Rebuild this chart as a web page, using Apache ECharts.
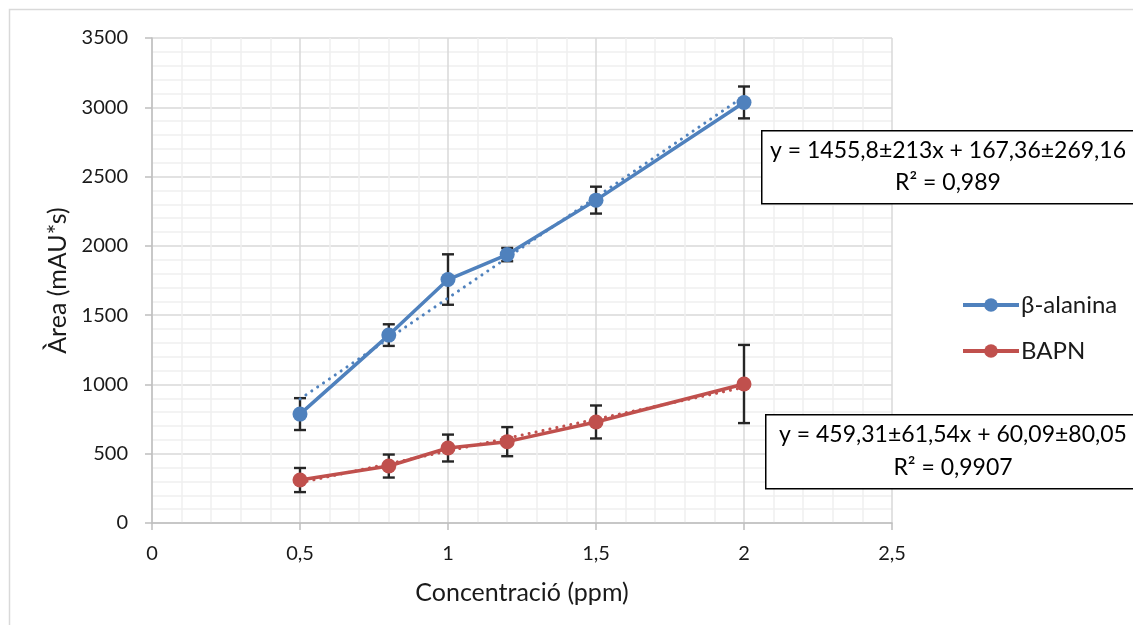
<!DOCTYPE html>
<html>
<head>
<meta charset="utf-8">
<script src="https://cdn.jsdelivr.net/npm/echarts@6/dist/echarts.min.js"></script>
<style>
  html, body { margin: 0; padding: 0; background: #fff; }
  #chart { width: 1133px; height: 625px; }
</style>
</head>
<body>
<div id="chart"></div>
<script>
// concentrations (ppm)
const concentrations = [0.5, 0.8, 1, 1.2, 1.5, 2];

// β-alanina: mean area and error
const alaninaArea = [786, 1356, 1757, 1937, 2330, 3035];
const alaninaErr = [115, 78, 182, 48, 97, 115];

// BAPN: mean area and error
const bapnArea = [310, 411, 541, 587, 729, 1003];
const bapnErr = [87, 83, 97, 105, 119, 282];

// dotted linear trendlines, end points
const alaninaTrend = [[0.5, 895], [2, 3079]];
const bapnTrend = [[0.5, 290], [2, 979]];

const xTicks = [0, 0.5, 1, 1.5, 2, 2.5];
const yTicks = [0, 500, 1000, 1500, 2000, 2500, 3000, 3500];

const eqAlanina = ['y = 1455,8±213x + 167,36±269,16', 'R² = 0,989'];
const eqBapn = ['y = 459,31±61,54x + 60,09±80,05', 'R² = 0,9907'];

const BLUE = '#4f81bd';
const RED = '#c0504d';
const FONT = 'Lato';
const TXT = '#1a1a1a';

const pairs = (xs, ys) => xs.map((x, i) => [x, ys[i]]);
const errRows = (xs, ys, es) => xs.map((x, i) => [x, ys[i] - es[i], ys[i] + es[i]]);

function errorBars(rows, z) {
  return {
    type: 'custom',
    silent: true,
    z: z,
    data: rows,
    encode: { x: 0, y: [1, 2] },
    renderItem: function (params, api) {
      const lo = api.coord([api.value(0), api.value(1)]);
      const hi = api.coord([api.value(0), api.value(2)]);
      const w = 6;
      const style = { stroke: '#262626', lineWidth: 2.4, fill: null };
      return {
        type: 'group',
        children: [
          { type: 'line', shape: { x1: lo[0], y1: lo[1], x2: hi[0], y2: hi[1] }, style: style },
          { type: 'line', shape: { x1: lo[0] - w, y1: lo[1], x2: lo[0] + w, y2: lo[1] }, style: style },
          { type: 'line', shape: { x1: hi[0] - w, y1: hi[1], x2: hi[0] + w, y2: hi[1] }, style: style }
        ]
      };
    }
  };
}

function eqBox(left, top, height, cx, lines) {
  return [
    {
      type: 'rect',
      left: left, top: top, z: 100,
      shape: { width: 1140 - left, height: height },
      style: { fill: '#fff', stroke: '#000', lineWidth: 1.5 }
    },
    {
      type: 'text', z: 101,
      x: cx, y: top + height * 0.28,
      style: { text: lines[0], font: '23px ' + FONT, fill: '#000', align: 'center', verticalAlign: 'middle' }
    },
    {
      type: 'text', z: 101,
      x: cx, y: top + height * 0.72,
      style: { text: lines[1], font: '23px ' + FONT, fill: '#000', align: 'center', verticalAlign: 'middle' }
    }
  ];
}

const chart = echarts.init(document.getElementById('chart'));

chart.setOption({
  animation: false,
  backgroundColor: '#fff',
  textStyle: { fontFamily: FONT },
  grid: { left: 152, right: 241, top: 38, bottom: 102 },
  legend: {
    orient: 'vertical',
    left: 956, top: 288,
    itemWidth: 56, itemHeight: 17, itemGap: 22,
    data: ['β-alanina', 'BAPN'],
    lineStyle: { width: 4 },
    textStyle: { fontFamily: FONT, fontSize: 24, lineHeight: 22, color: TXT, padding: [0, 0, 0, -3] }
  },
  xAxis: {
    type: 'value',
    min: 0, max: 2.5, interval: 0.5,
    name: 'Concentració (ppm)',
    nameLocation: 'middle', nameGap: 57,
    nameTextStyle: { fontFamily: FONT, fontSize: 25, color: TXT },
    axisLine: { lineStyle: { color: '#bfbfbf', width: 1.5 } },
    axisTick: { show: true, length: 7, lineStyle: { color: '#bfbfbf', width: 1.5 } },
    axisLabel: {
      fontFamily: FONT, fontSize: 20, color: TXT, margin: 21,
      formatter: v => xTicks.includes(v) ? String(v).replace('.', ',') : ''
    },
    splitLine: { show: true, lineStyle: { color: '#d9d9d9', width: 1.5 } },
    minorTick: { show: true, splitNumber: 5, length: 0 },
    minorSplitLine: { show: true, lineStyle: { color: '#efefef', width: 1.5 } }
  },
  yAxis: {
    type: 'value',
    min: 0, max: 3500, interval: 500,
    name: 'Àrea (mAU*s)',
    nameLocation: 'middle', nameGap: 82,
    nameTextStyle: { fontFamily: FONT, fontSize: 25, color: TXT },
    axisLine: { show: true, lineStyle: { color: '#bfbfbf', width: 1.5 } },
    axisTick: { show: true, length: 7, lineStyle: { color: '#bfbfbf', width: 1.5 } },
    axisLabel: {
      fontFamily: FONT, fontSize: 20, color: TXT, margin: 24,
      formatter: v => yTicks.includes(v) ? String(v) : ''
    },
    splitLine: { show: true, lineStyle: { color: '#d9d9d9', width: 1.5 } },
    minorTick: { show: true, splitNumber: 5, length: 0 },
    minorSplitLine: { show: true, lineStyle: { color: '#efefef', width: 1.5 } }
  },
  series: [
    errorBars(errRows(concentrations, alaninaArea, alaninaErr), 2),
    errorBars(errRows(concentrations, bapnArea, bapnErr), 2),
    {
      name: 'β-alanina trend', type: 'line', z: 3,
      data: alaninaTrend, symbol: 'none', silent: true,
      lineStyle: { color: BLUE, width: 3, type: [0.1, 7], cap: 'round' }
    },
    {
      name: 'BAPN trend', type: 'line', z: 3,
      data: bapnTrend, symbol: 'none', silent: true,
      lineStyle: { color: RED, width: 3, type: [0.1, 7], cap: 'round' }
    },
    {
      name: 'β-alanina', type: 'line', z: 4,
      data: pairs(concentrations, alaninaArea),
      symbol: 'circle', symbolSize: 15,
      itemStyle: { color: BLUE },
      lineStyle: { color: BLUE, width: 3.5 }
    },
    {
      name: 'BAPN', type: 'line', z: 4,
      data: pairs(concentrations, bapnArea),
      symbol: 'circle', symbolSize: 15,
      itemStyle: { color: RED },
      lineStyle: { color: RED, width: 3.5 }
    }
  ],
  graphic: [
    {
      type: 'rect', left: 7, top: 7, z: -1, silent: true,
      shape: { width: 1200, height: 700 },
      style: { fill: 'none', stroke: '#d9d9d9', lineWidth: 1.5 }
    }
  ].concat(eqBox(761, 130, 73, 948, eqAlanina), eqBox(765, 414, 74, 953, eqBapn))
});
</script>
</body>
</html>
